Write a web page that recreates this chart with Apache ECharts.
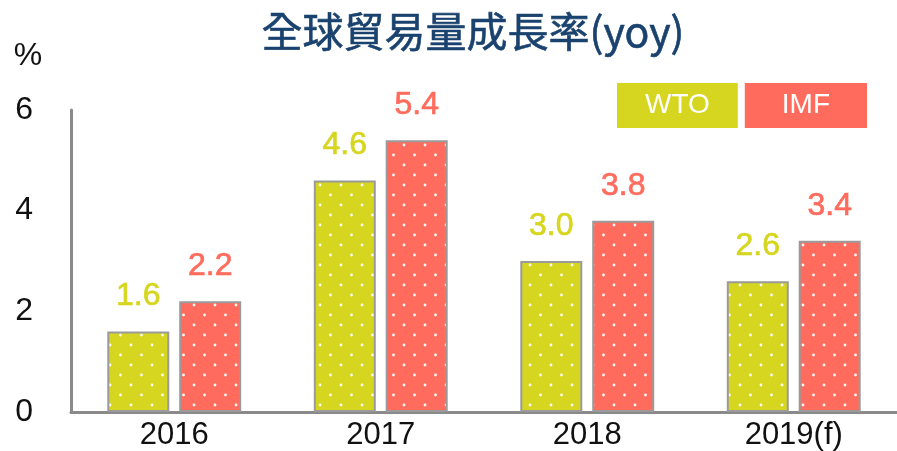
<!DOCTYPE html>
<html>
<head>
<meta charset="utf-8" />
<title>全球貿易量成長率</title>
<script src="https://cdn.jsdelivr.net/npm/echarts@6/dist/echarts.min.js"></script>
<style>
	html, body { margin: 0; padding: 0; background: #fff; }
	#chart { width: 897px; height: 451px; }
</style>
</head>
<body>
<div id="chart"></div>
<script>
var years = ['2016', '2017', '2018', '2019(f)'];
var wto = [1.6, 4.6, 3.0, 2.6];
var imf = [2.2, 5.4, 3.8, 3.4];
var yTicks = [0, 2, 4, 6];

// 白色小點的底紋
function dots(color) {
	var c = document.createElement('canvas');
	c.width = 21; c.height = 20;
	var ctx = c.getContext('2d');
	ctx.fillStyle = color;
	ctx.fillRect(0, 0, 21, 20);
	ctx.fillStyle = 'rgba(255,255,255,0.95)';
	[[5, 5], [15.5, 15]].forEach(function (p) {
		ctx.beginPath();
		ctx.arc(p[0], p[1], 1.4, 0, Math.PI * 2);
		ctx.fill();
	});
	return { image: c, repeat: 'repeat' };
}

var font = 'Liberation Sans, Arial, sans-serif';
var yellow = '#d6d620', red = '#ff6c5e';

function barLabel(color) {
	return {
		show: true, position: 'top', distance: 19,
		formatter: function (p) { return p.value.toFixed(1); },
		fontFamily: font, fontSize: 32, color: color,
		textBorderColor: color, textBorderWidth: 0.7
	};
}

var chart = echarts.init(document.getElementById('chart'));
chart.setOption({
	animation: false,
	title: {
		text: '全球貿易量成長率(yoy)',
		left: 468,
		textAlign: 'center',
		top: 6,
		textStyle: {
			fontFamily: 'Noto Sans CJK TC, Liberation Sans, sans-serif',
			fontSize: 41,
			fontWeight: 'normal',
			color: '#1a426e',
			textBorderColor: '#1a426e',
			textBorderWidth: 0.6
		}
	},
	legend: {
		right: 30,
		top: 83,
		padding: 0,
		icon: 'none',
		itemWidth: 0,
		itemHeight: 0,
		itemGap: 2,
		selectedMode: false,
		textStyle: {
			fontFamily: font,
			fontSize: 28,
			color: '#fff',
			height: 45,
			lineHeight: 45
		},
		data: [
			{ name: 'WTO', textStyle: { backgroundColor: yellow, padding: [0, 28] } },
			{ name: 'IMF', textStyle: { backgroundColor: red, padding: [0, 37] } }
		]
	},
	grid: { left: 71, top: 110, width: 830, bottom: 36, containLabel: false },
	xAxis: {
		type: 'category',
		data: years,
		axisLine: { lineStyle: { color: '#8a8a8a', width: 3 } },
		axisTick: { show: false },
		axisLabel: { fontFamily: font, fontSize: 31, color: '#111', margin: 8 }
	},
	yAxis: {
		type: 'value',
		min: yTicks[0],
		max: yTicks[yTicks.length - 1],
		interval: 2,
		name: '%',
		nameLocation: 'end',
		nameGap: 38,
		nameTextStyle: { fontFamily: font, fontSize: 32, color: '#111', align: 'center', padding: [0, 86, 0, 0] },
		axisLine: { show: true, lineStyle: { color: '#8a8a8a', width: 3 } },
		axisTick: { show: false },
		splitLine: { show: false },
		axisLabel: { fontFamily: font, fontSize: 32, color: '#111', margin: 38 }
	},
	series: [
		{
			name: 'WTO',
			type: 'bar',
			data: wto,
			barWidth: 62,
			barGap: '16%',
			itemStyle: { color: dots(yellow), borderColor: '#9a9a9a', borderWidth: 2 },
			label: barLabel(yellow)
		},
		{
			name: 'IMF',
			type: 'bar',
			data: imf,
			barWidth: 62,
			itemStyle: { color: dots(red), borderColor: '#9a9a9a', borderWidth: 2 },
			label: barLabel(red)
		}
	]
});
</script>
</body>
</html>
